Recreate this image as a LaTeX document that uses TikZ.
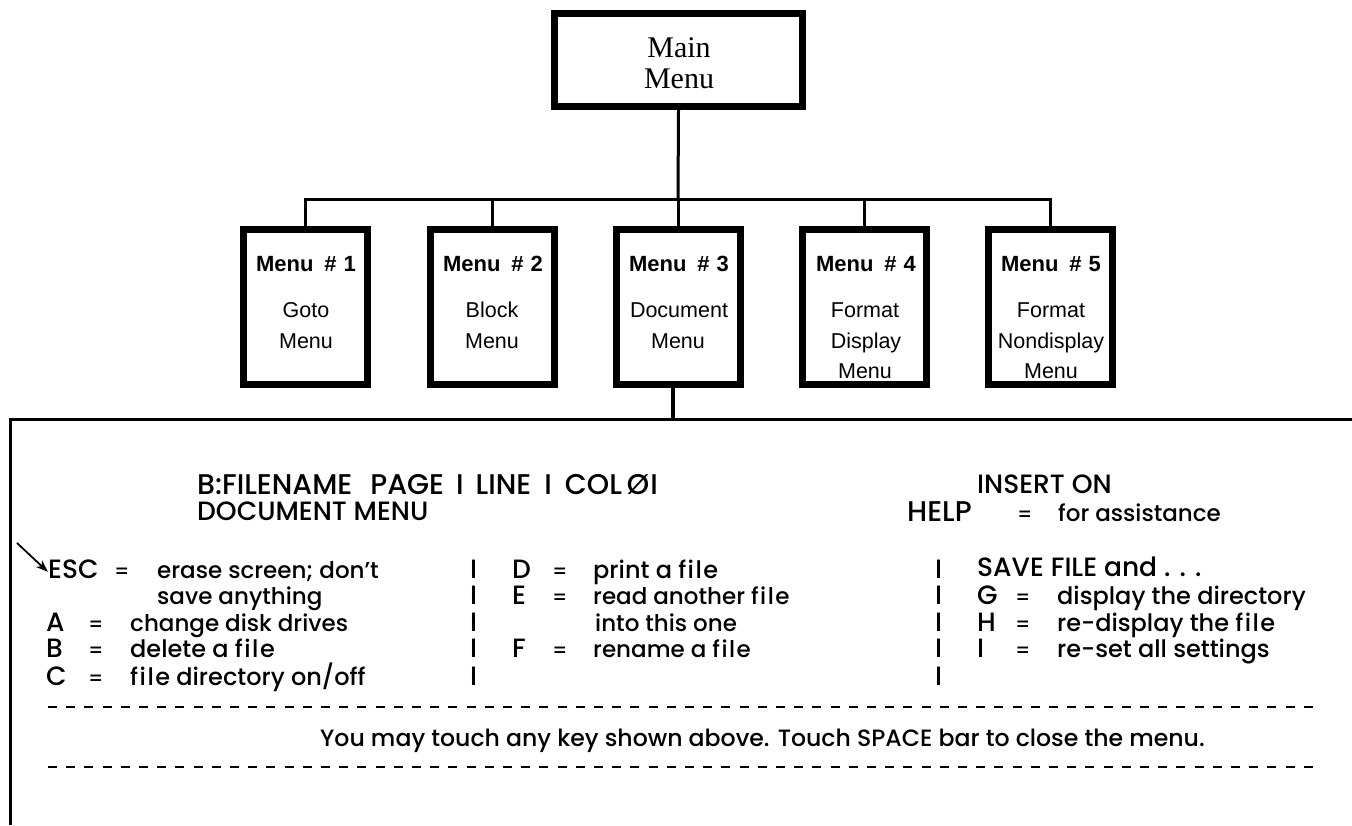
\documentclass[tikz,border=0pt]{standalone}
\usepackage{fontspec}
\usetikzlibrary{arrows.meta}
\setmainfont{Poppins}[UprightFont=* Medium]
\newfontfamily\helv{Liberation Sans}
\newfontfamily\tms{Liberation Serif}
\newcommand{\wfile}{f\kern1.5pt i\kern1.5pt l\kern1.5pt e}
\tikzset{
  x=1pt,y=-1pt,
  topbox/.style={draw=black,line width=7pt,fill=white,inner sep=0pt,minimum width=248pt,minimum height=93pt},
  toplabel/.style={anchor=base,inner sep=0pt,font=\tms\fontsize{30}{32}\selectfont},
  menubox/.style={draw=black,line width=7pt,fill=white,inner sep=0pt,minimum width=124pt,minimum height=155pt},
  mtitle/.style={anchor=base,inner sep=0pt,font=\helv\bfseries\fontsize{22}{24}\selectfont},
  mtext/.style={anchor=base,inner sep=0pt,font=\helv\fontsize{21.5}{24}\selectfont},
  conn/.style={line width=3pt,draw=black},
  heavyconn/.style={line width=4.5pt,draw=black},
  txt/.style={anchor=base west,inner sep=0pt,font=\fontsize{23}{24}\selectfont},
  txtb/.style={anchor=base west,inner sep=0pt,font=\fontsize{24}{25}\selectfont},
  foottxt/.style={anchor=base west,inner sep=0pt,font=\fontsize{23.6}{25}\selectfont},
  captxt/.style={anchor=base west,inner sep=0pt,font=\fontsize{26.5}{28}\selectfont},
  headtxt/.style={anchor=base west,inner sep=0pt,font=\fontsize{28.5}{30}\selectfont},
  eqtxt/.style={anchor=base west,inner sep=0pt,font=\fontsize{20}{22}\selectfont},
  panelline/.style={line width=3pt,draw=black},
  dashline/.style={line width=2pt,draw=black,dash pattern=on 9pt off 9.2pt}
}
\begin{document}
\begin{tikzpicture}
\useasboundingbox (0,0) rectangle (1352,825);
% boxes
\node[topbox] (main) at (678.5,60) {};
\node[toplabel] (mainA) at (679,57) {Main};
\node[toplabel] (mainB) at (679,88) {Menu};
\node[menubox] (m1) at (305,307) {};
\node[menubox] (m2) at (492,307) {};
\node[menubox] (m3) at (678,307) {};
\node[menubox] (m4) at (864.5,307) {};
\node[menubox] (m5) at (1050,307) {};
% menu labels
\node[mtitle] (m1a) at (306,271) {Menu\hspace{11pt}\#\hspace{7pt}1};
\node[mtext] (m1b) at (306,317) {Goto};
\node[mtext] (m1c) at (306,348) {Menu};
\node[mtitle] (m2a) at (493,271) {Menu\hspace{11pt}\#\hspace{7pt}2};
\node[mtext] (m2b) at (492,317) {Block};
\node[mtext] (m2c) at (492,348) {Menu};
\node[mtitle] (m3a) at (679,271) {Menu\hspace{11pt}\#\hspace{7pt}3};
\node[mtext] (m3b) at (679,317) {Document};
\node[mtext] (m3c) at (678,348) {Menu};
\node[mtitle] (m4a) at (866,271) {Menu\hspace{11pt}\#\hspace{7pt}4};
\node[mtext] (m4b) at (865,317) {Format};
\node[mtext] (m4c) at (866,348) {Display};
\node[mtext] (m4d) at (865,378) {Menu};
\node[mtitle] (m5a) at (1051,271) {Menu\hspace{11pt}\#\hspace{7pt}5};
\node[mtext] (m5b) at (1051,317) {Format};
\node[mtext] (m5c) at (1051,348) {Nondisplay};
\node[mtext] (m5d) at (1051,378) {Menu};
% connectors
\coordinate (bus) at (678,199);
\draw[conn] (main.south) -- (bus);
\draw[conn,line join=miter] (m1.north) |- (bus) -| (m5.north);
\draw[conn] (m2.north) -- (m2.north |- bus);
\draw[conn] (m3.north) -- (m3.north |- bus);
\draw[conn] (m4.north) -- (m4.north |- bus);
% panel
\coordinate (pbl) at (10,825);
\coordinate (ptl) at (10,419);
\coordinate (ptr) at (1352,419);
\draw[panelline] (pbl) -- (ptl) -- (ptr);
\coordinate (stemtop) at (673,388);
\coordinate (stemend) at (673,419);
\draw[heavyconn] (stemtop) -- (stemend);
% header
\node[headtxt] (h1) at (197,494) {B:FILENAME\hspace{18pt}PAGE\hspace{12pt}I\hspace{12pt}LINE\hspace{13pt}I\hspace{13pt}COL\hspace{5pt}Ø\hspace{1pt}I};
\node[captxt] (h2) at (197,520) {DOCUMENT MENU};
\node[captxt] (h3) at (977,493) {INSERT ON};
\node[headtxt] (h4) at (907,521) {HELP};
\node[eqtxt] (h5) at (1017,521) {=};
\node[txt] (h6) at (1058,521) {for assistance};
% column 1
\node[captxt] (a1) at (48,578) {ESC};
\node[eqtxt] (a2) at (114,578) {=};
\node[txt] (a3) at (157,578) {erase screen; don't};
\node[txt] (a4) at (157,604) {save anything};
\node[captxt] (b1) at (46,631) {A};
\node[eqtxt] (b2) at (88,631) {=};
\node[txt] (b3) at (130,631) {change disk drives};
\node[captxt] (c1) at (46,657) {B};
\node[eqtxt] (c2) at (88,657) {=};
\node[txtb] (c3) at (130,657) {delete a \wfile};
\node[captxt] (d1) at (46,685) {C};
\node[eqtxt] (d2) at (88,685) {=};
\node[txtb] (d3) at (130,685) {\wfile{} directory on/off};
% bars
\foreach \yy/\nn in {578/1,604/2,631/3,657/4,685/5}{
  \node[captxt] (barA\nn) at (470,\yy) {I};
  \node[captxt] (barB\nn) at (935,\yy) {I};
}
% column 2
\node[captxt] (e1) at (512,578) {D};
\node[eqtxt] (e2) at (552,578) {=};
\node[txtb] (e3) at (593,578) {print a \wfile};
\node[captxt] (f1) at (512,604) {E};
\node[eqtxt] (f2) at (552,604) {=};
\node[txt] (f3) at (593,604) {read another \wfile};
\node[txt] (f4) at (595,631) {into this one};
\node[captxt] (g1) at (512,657) {F};
\node[eqtxt] (g2) at (552,657) {=};
\node[txt] (g3) at (593,657) {rename a \wfile};
% column 3
\node[captxt] (i1) at (977,576) {SAVE FILE and . . .};
\node[captxt] (j1) at (977,604) {G};
\node[eqtxt] (j2) at (1015,604) {=};
\node[txtb] (j3) at (1057,604) {display the directory};
\node[captxt] (k1) at (977,631) {H};
\node[eqtxt] (k2) at (1015,631) {=};
\node[txtb] (k3) at (1057,631) {re-display the \wfile};
\node[captxt] (l1) at (977,657) {I};
\node[eqtxt] (l2) at (1015,657) {=};
\node[txtb] (l3) at (1057,657) {re-set all settings};
% footer
\coordinate (dla) at (48,707);
\coordinate (dlb) at (1320,707);
\coordinate (dma) at (48,767);
\coordinate (dmb) at (1320,767);
\draw[dashline] (dla) -- (dlb);
\draw[dashline] (dma) -- (dmb);
\node[foottxt] (foot) at (320,746) {You may touch any key shown above. Touch SPACE bar to close the menu.};
% arrow
\coordinate (arrs) at (17,543);
\node[inner sep=0pt,minimum size=0pt] (arre) at (48,572) {};
\draw[line width=1.8pt,-{Stealth[length=12pt,width=9pt]}] (arrs) -- (arre);
\end{tikzpicture}
\end{document}
